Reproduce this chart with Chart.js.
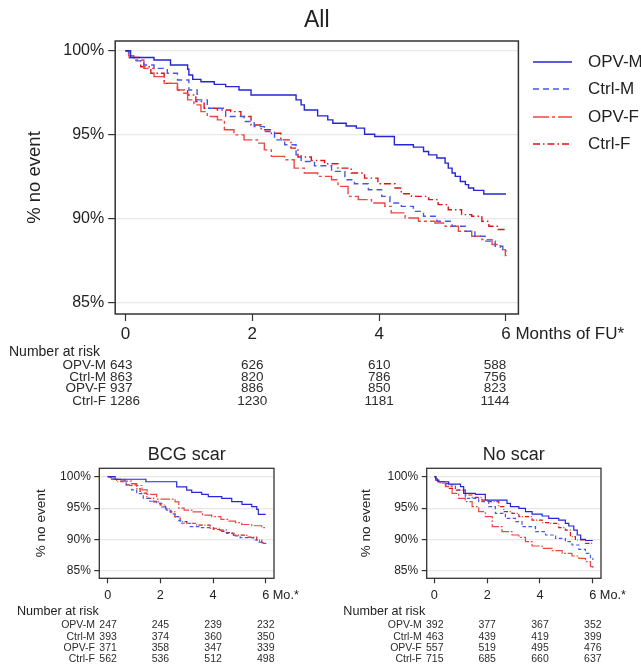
<!DOCTYPE html>
<html>
<head>
<meta charset="utf-8">
<script src="https://cdn.jsdelivr.net/npm/chart.js@4.4.1/dist/chart.umd.min.js"></script>
<style>
  body { margin: 0; background: #fff; }
  #wrap { position: relative; width: 641px; height: 667px; overflow: hidden; }
  canvas { position: absolute; }
</style>
</head>
<body>
<div id="wrap">
  <canvas id="all" width="641" height="425" style="left:0;top:0"></canvas>
  <canvas id="bcg" width="320" height="242" style="left:0;top:425px"></canvas>
  <canvas id="noscar" width="321" height="242" style="left:320px;top:425px"></canvas>
</div>
<script>
// ===========================
// Data
// ===========================

const groups = ["OPV-M", "Ctrl-M", "OPV-F", "Ctrl-F"];
const xTicks = [0, 2, 4, 6];
const yTicks = [85, 90, 95, 100];
const riskTimes = [0, 2, 4, 6];
const yAxisTitle = "% no event";
const riskHeader = "Number at risk";

// [month, % no event]
const allOpvM = [[0,100],[0.08,99.6],[0.45,99.45],[0.71,99.15],[0.98,98.9],[1.0,98.56],[1.06,98.3],[1.19,98.16],[1.4,98.0],[1.58,97.87],[1.79,97.67],[1.98,97.37],[2.69,97.08],[2.77,96.78],[2.82,96.48],[3.03,96.13],[3.19,95.89],[3.27,95.69],[3.48,95.53],[3.64,95.4],[3.77,95.04],[3.93,94.9],[4.24,94.41],[4.54,94.27],[4.7,94.01],[4.78,93.81],[4.91,93.62],[5.04,93.32],[5.09,93.02],[5.15,92.73],[5.2,92.53],[5.28,92.23],[5.36,92.04],[5.41,91.84],[5.49,91.7],[5.65,91.48],[6.0,91.48]];
const allCtrlM = [[0,100],[0.05,99.6],[0.15,99.4],[0.29,99.15],[0.45,98.95],[0.66,98.66],[0.82,98.26],[1.0,97.67],[1.13,97.08],[1.29,96.58],[1.58,96.09],[1.87,95.79],[2.03,95.49],[2.19,95.2],[2.35,94.7],[2.51,94.41],[2.69,93.81],[2.77,93.42],[2.98,93.16],[3.25,92.83],[3.46,92.33],[3.61,92.09],[3.83,91.74],[4.04,91.34],[4.17,90.95],[4.35,90.75],[4.54,90.45],[4.7,90.16],[4.91,89.86],[5.15,89.57],[5.36,89.27],[5.51,88.97],[5.67,88.68],[5.83,88.38],[5.95,88.1],[6.0,88.05]];
const allOpvF = [[0,100],[0.05,99.7],[0.13,99.45],[0.29,98.95],[0.45,98.46],[0.61,98.06],[0.82,97.67],[0.92,97.47],[0.98,97.08],[1.08,96.78],[1.19,96.38],[1.29,96.09],[1.45,95.89],[1.56,95.3],[1.71,95.0],[1.87,94.7],[2.08,94.51],[2.19,94.11],[2.3,93.72],[2.51,93.52],[2.66,93.02],[2.82,92.73],[3.03,92.53],[3.25,92.33],[3.35,91.94],[3.51,91.34],[3.67,91.15],[3.88,90.95],[4.09,90.75],[4.19,90.36],[4.41,90.06],[4.62,89.86],[4.88,89.76],[5.04,89.57],[5.25,89.27],[5.46,88.97],[5.62,88.77],[5.78,88.48],[5.91,88.18],[5.99,87.82],[6.0,87.8]];
const allCtrlF = [[0,100],[0.05,99.6],[0.24,99.05],[0.4,98.66],[0.61,98.06],[0.82,97.67],[0.98,97.37],[1.11,96.98],[1.24,96.58],[1.45,96.48],[1.66,96.38],[1.82,96.09],[1.98,95.59],[2.14,95.3],[2.3,95.1],[2.45,94.7],[2.61,94.21],[2.72,93.68],[2.93,93.48],[3.14,93.28],[3.35,93.02],[3.56,92.73],[3.77,92.43],[3.98,92.09],[4.25,91.84],[4.35,91.5],[4.51,91.34],[4.78,91.15],[4.93,90.85],[5.09,90.55],[5.3,90.26],[5.46,90.16],[5.62,89.86],[5.73,89.57],[5.88,89.37],[6.0,89.37]];

const bcgOpvM = [[0,100],[0.28,99.6],[1.45,99.2],[2.62,98.4],[3.0,97.88],[3.19,97.51],[3.57,97.19],[3.82,96.82],[4.33,96.56],[4.71,96.03],[5.1,95.6],[5.47,95.23],[5.66,94.81],[5.72,94.0],[6.0,94.0]];
const bcgCtrlM = [[0,100],[0.2,99.6],[0.47,99.47],[0.7,98.6],[0.91,97.9],[1.1,97.3],[1.35,96.56],[1.6,96.1],[1.86,95.76],[2.05,95.2],[2.24,94.7],[2.4,94.1],[2.56,93.64],[2.7,93.0],[2.81,92.6],[3.13,92.05],[3.5,91.9],[4.01,91.6],[4.25,91.3],[4.52,91.0],[4.8,90.6],[5.03,90.3],[5.53,89.93],[5.75,89.6],[5.91,89.4],[6.0,89.3]];
const bcgOpvF = [[0,100],[0.15,99.6],[0.5,99.3],[0.9,98.9],[1.1,98.6],[1.3,97.9],[1.5,97.2],[1.86,96.45],[2.56,96.0],[2.7,95.0],[2.9,94.7],[3.2,94.4],[3.6,93.9],[3.95,93.64],[4.3,93.2],[4.58,92.95],[4.85,92.7],[5.09,92.4],[5.47,92.2],[5.85,91.9],[6.0,91.85]];
const bcgCtrlF = [[0,100],[0.1,99.6],[0.34,99.2],[0.72,98.7],[1.1,98.1],[1.23,97.4],[1.48,96.56],[1.75,96.0],[1.99,95.5],[2.2,94.9],[2.37,94.4],[2.55,93.6],[2.75,92.85],[3.0,92.6],[3.38,92.3],[3.89,91.8],[4.27,91.5],[4.5,91.1],[4.77,90.7],[5.28,90.4],[5.66,89.9],[5.85,89.5],[5.97,89.25],[6.0,89.2]];

const nsOpvM = [[0,100],[0.05,99.7],[0.1,99.47],[0.17,99.2],[0.54,98.83],[0.99,98.41],[1.11,97.35],[1.55,97.19],[1.93,96.29],[2.75,95.76],[2.88,95.23],[3.2,94.97],[3.45,94.44],[3.7,94.06],[4.08,93.75],[4.33,93.38],[4.71,93.11],[4.96,92.58],[5.09,92.16],[5.28,91.52],[5.41,90.73],[5.54,90.04],[5.72,89.85],[6.0,89.85]];
const nsCtrlM = [[0,100],[0.05,99.5],[0.12,99.2],[0.42,98.68],[0.8,97.88],[1.17,96.56],[1.68,96.03],[2.06,95.23],[2.31,94.17],[2.69,93.38],[3.07,92.85],[3.32,92.05],[3.83,91.26],[4.21,90.73],[4.59,90.2],[4.96,89.67],[5.21,89.14],[5.47,88.45],[5.72,87.81],[5.91,87.02],[6.0,86.75]];
const nsOpvF = [[0,100],[0.05,99.4],[0.15,99.0],[0.42,98.41],[0.67,97.35],[0.92,96.56],[1.17,96.03],[1.43,95.23],[1.68,94.44],[1.93,93.64],[2.19,92.05],[2.56,91.26],[2.94,90.73],[3.2,90.36],[3.45,89.67],[3.7,88.98],[4.08,88.61],[4.46,88.24],[4.84,87.81],[5.21,87.39],[5.47,87.02],[5.72,86.49],[5.91,85.69],[6.0,85.5]];
const nsCtrlF = [[0,100],[0.05,99.5],[0.12,99.2],[0.29,98.94],[0.54,98.15],[0.8,97.88],[1.17,97.09],[1.43,96.71],[1.8,96.29],[2.06,96.03],[2.44,95.23],[2.63,94.44],[2.94,94.17],[3.2,93.64],[3.7,93.11],[4.08,92.69],[4.33,92.58],[4.71,91.89],[4.96,91.52],[5.15,90.46],[5.34,89.93],[5.72,89.4],[6.0,89.24]];

// number at risk, rows follow groups, columns follow riskTimes
const riskAll = [[643, 626, 610, 588], [863, 820, 786, 756], [937, 886, 850, 823], [1286, 1230, 1181, 1144]];
const riskBcg = [[247, 245, 239, 232], [393, 374, 360, 350], [371, 358, 347, 339], [562, 536, 512, 498]];
const riskNoScar = [[392, 377, 367, 352], [463, 439, 419, 399], [557, 519, 495, 476], [715, 685, 660, 637]];

// ===========================
// Styles
// ===========================

const FONT = "'Liberation Sans', Arial, Helvetica, sans-serif";
const TEXT = "#222";
const lineColors = ["#2626d6", "#4858e2", "#ef4545", "#dd1414"];
const lineDash = [[], [6, 4], [16, 3, 3, 3], [7, 3, 1.5, 3]];

// ===========================
// Text, box, legend, risk table
// ===========================

function panelPlugin(p) {
  return {
    id: "panelText",
    afterDraw(chart) {
      const ctx = chart.ctx;
      const a = chart.chartArea;
      const xs = chart.scales.x;
      const ox = p.ox, oy = p.oy;

      ctx.save();

      // plot box
      ctx.strokeStyle = "#333";
      ctx.lineWidth = p.boxW;
      ctx.strokeRect(a.left, a.top, a.right - a.left, a.bottom - a.top);

      ctx.fillStyle = TEXT;
      ctx.textBaseline = "middle";

      // title
      ctx.font = p.titleSize + "px " + FONT;
      ctx.textAlign = "center";
      ctx.fillText(p.title, (a.left + a.right) / 2, p.titleY - oy);

      // y axis title
      ctx.save();
      ctx.translate(p.yTitleX - ox, (a.top + a.bottom) / 2);
      ctx.rotate(-Math.PI / 2);
      ctx.font = p.yTitleSize + "px " + FONT;
      ctx.fillText(yAxisTitle, 0, 0);
      ctx.restore();

      // x tick labels, last one carries the unit
      ctx.font = p.xTickSize + "px " + FONT;
      xTicks.forEach((v, i) => {
        const px = xs.getPixelForValue(v);
        const s = String(v);
        ctx.textAlign = "center";
        ctx.fillText(s, px, p.xLabelY - oy);
        if (i === xTicks.length - 1) {
          ctx.textAlign = "left";
          ctx.fillText(p.xSuffix, px + ctx.measureText(s).width / 2, p.xLabelY - oy);
        }
      });

      // legend
      if (p.legend) {
        const lg = p.legend;
        chart.data.datasets.forEach((ds, i) => {
          const y = lg.rows[i] - oy;
          ctx.strokeStyle = ds.borderColor;
          ctx.lineWidth = ds.borderWidth;
          ctx.setLineDash(ds.borderDash);
          ctx.beginPath();
          ctx.moveTo(lg.x0 - ox, y);
          ctx.lineTo(lg.x1 - ox, y);
          ctx.stroke();
          ctx.setLineDash([]);
          ctx.font = lg.size + "px " + FONT;
          ctx.textAlign = "left";
          ctx.fillText(ds.label, lg.tx - ox, y);
        });
      }

      // number at risk
      ctx.font = p.riskHeadSize + "px " + FONT;
      ctx.textAlign = "left";
      ctx.fillText(riskHeader, p.riskHeadX - ox, p.riskHeadY - oy);

      ctx.fillStyle = "#2c2c2c";
      ctx.font = p.riskSize + "px " + FONT;
      groups.forEach((g, i) => {
        const y = p.riskRows[i] - oy;
        ctx.textAlign = "right";
        ctx.fillText(g, p.riskLabelR - ox, y);
        p.risk[i].forEach((n, j) => {
          if (j === 0) {
            ctx.textAlign = "left";
            ctx.fillText(n, p.riskFirstL - ox, y);
          } else {
            ctx.textAlign = "center";
            ctx.fillText(n, xs.getPixelForValue(riskTimes[j]) + (p.riskDx[j] || 0), y);
          }
        });
      });

      ctx.restore();
    },
  };
}

// ===========================
// Create Chart
// ===========================

function makePanel(id, series, p) {
  const canvas = document.getElementById(id);
  const w = canvas.width, h = canvas.height;

  return new Chart(canvas, {
    type: "line",
    data: {
      datasets: series.map((s, i) => ({
        label: groups[i],
        data: s.map(([x, y]) => ({ x: x, y: y })),
        borderColor: lineColors[i],
        borderWidth: p.lineW,
        borderDash: lineDash[i].map((d) => d * p.dashScale),
        stepped: true,
        pointRadius: 0,
        fill: false,
      })),
    },
    options: {
      responsive: false,
      animation: false,
      events: [],
      layout: {
        padding: {
          left: 0,
          top: p.T - p.oy,
          right: w - (p.R - p.ox),
          bottom: h - (p.B - p.oy) - p.xAxisH,
        },
      },
      plugins: {
        legend: { display: false },
        tooltip: { enabled: false },
      },
      scales: {
        x: {
          type: "linear",
          min: p.xMin,
          max: p.xMax,
          afterBuildTicks: (s) => { s.ticks = xTicks.map((v) => ({ value: v })); },
          afterFit: (s) => { s.height = p.xAxisH; },
          ticks: { display: false },
          grid: {
            drawOnChartArea: false,
            tickLength: p.tickLen,
            tickColor: "#333",
            tickWidth: 1.2,
          },
          border: { display: false },
        },
        y: {
          min: p.yMin,
          max: p.yMax,
          afterBuildTicks: (s) => { s.ticks = yTicks.map((v) => ({ value: v })); },
          afterFit: (s) => { s.width = p.L - p.ox; },
          ticks: {
            autoSkip: false,
            padding: p.yTickPad,
            color: TEXT,
            font: { family: FONT, size: p.yTickSize },
            callback: (v) => v + "%",
          },
          grid: {
            color: "#e8e8e8",
            lineWidth: 1.2,
            tickLength: p.tickLen,
            tickColor: "#333",
            tickWidth: 1.2,
          },
          border: { display: false },
        },
      },
    },
    plugins: [panelPlugin(p)],
  });
}

makePanel("all", [allOpvM, allCtrlM, allOpvF, allCtrlF], {
  ox: 0, oy: 0,
  L: 115.2, T: 41, R: 518.4, B: 314,
  xMin: -0.162, xMax: 6.196, yMin: 84.35, yMax: 100.58,
  xAxisH: 40, tickLen: 7, boxW: 1.5, lineW: 1.4, dashScale: 1,
  title: "All", titleY: 21, titleSize: 23,
  yTitleX: 35, yTitleSize: 18.5,
  yTickSize: 16, yTickPad: 4,
  xTickSize: 17, xLabelY: 334.5, xSuffix: " Months of FU*",
  legend: { x0: 533, x1: 572, tx: 588, rows: [62, 89, 117, 144], size: 17 },
  risk: riskAll, riskHeadX: 9, riskHeadY: 351.7, riskHeadSize: 14,
  riskSize: 13.5, riskRows: [365, 377, 388.5, 401], riskLabelR: 106, riskFirstL: 110,
  riskDx: [0, 0, 0, -11],
});

makePanel("bcg", [bcgOpvM, bcgCtrlM, bcgOpvF, bcgCtrlF], {
  ox: 0, oy: 425,
  L: 99.3, T: 468.3, R: 274, B: 578.3,
  xMin: -0.32, xMax: 6.315, yMin: 83.84, yMax: 101.34,
  xAxisH: 30, tickLen: 5, boxW: 1.3, lineW: 1.2, dashScale: 0.6,
  title: "BCG scar", titleY: 455, titleSize: 18,
  yTitleX: 41, yTitleSize: 13.6,
  yTickSize: 12, yTickPad: 3.5,
  xTickSize: 12.7, xLabelY: 595.3, xSuffix: " Mo.*",
  legend: null,
  risk: riskBcg, riskHeadX: 17, riskHeadY: 612, riskHeadSize: 12.6,
  riskSize: 10.5, riskRows: [625, 637, 648, 659], riskLabelR: 95, riskFirstL: 99.3,
  riskDx: [0, 0, 0, 0],
});

makePanel("noscar", [nsOpvM, nsCtrlM, nsOpvF, nsCtrlF], {
  ox: 320, oy: 425,
  L: 426.7, T: 468.3, R: 601, B: 578.3,
  xMin: -0.29, xMax: 6.31, yMin: 83.84, yMax: 101.34,
  xAxisH: 30, tickLen: 5, boxW: 1.3, lineW: 1.2, dashScale: 0.6,
  title: "No scar", titleY: 455, titleSize: 18,
  yTitleX: 366.7, yTitleSize: 13.6,
  yTickSize: 12, yTickPad: 3.5,
  xTickSize: 12.7, xLabelY: 595.3, xSuffix: " Mo.*",
  legend: null,
  risk: riskNoScar, riskHeadX: 343.3, riskHeadY: 612, riskHeadSize: 12.6,
  riskSize: 10.5, riskRows: [625, 637, 648, 659], riskLabelR: 421.7, riskFirstL: 426,
  riskDx: [0, 0, 0, 0],
});
</script>
</body>
</html>
